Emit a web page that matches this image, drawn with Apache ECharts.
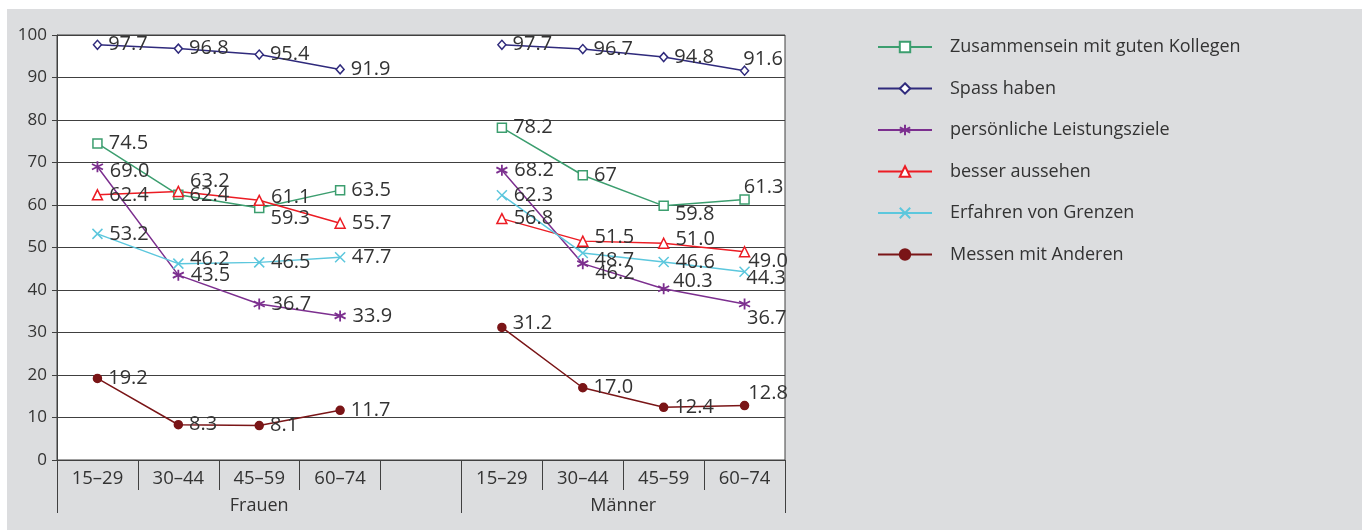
<!DOCTYPE html>
<html>
<head>
<meta charset="utf-8">
<script src="https://cdn.jsdelivr.net/npm/echarts@6/dist/echarts.min.js"></script>
<style>
  html, body { margin: 0; padding: 0; background: #ffffff; }
  #bg { position: absolute; left: 7px; top: 9px; width: 1355px; height: 521px; background: #dcdddf; }
  #chart { position: absolute; left: 0; top: 0; width: 1362px; height: 530px; }
</style>
</head>
<body>
<div id="bg"></div>
<div id="chart"></div>
<script>
// ---- data ----
const ageGroups = ['15–29', '30–44', '45–59', '60–74'];
const sexGroups = ['Frauen', 'Männer'];
const seriesNames = ['Zusammensein mit guten Kollegen', 'Spass haben', 'persönliche Leistungsziele', 'besser aussehen', 'Erfahren von Grenzen', 'Messen mit Anderen'];
const yTicks = [0, 10, 20, 30, 40, 50, 60, 70, 80, 90, 100];

const frauenZusammensein = ['74.5', '62.4', '59.3', '63.5'];
const maennerZusammensein = ['78.2', '67', '59.8', '61.3'];
const frauenSpass = ['97.7', '96.8', '95.4', '91.9'];
const maennerSpass = ['97.7', '96.7', '94.8', '91.6'];
const frauenLeistung = ['69.0', '43.5', '36.7', '33.9'];
const maennerLeistung = ['68.2', '46.2', '40.3', '36.7'];
const frauenAussehen = ['62.4', '63.2', '61.1', '55.7'];
const maennerAussehen = ['56.8', '51.5', '51.0', '49.0'];
const frauenGrenzen = ['53.2', '46.2', '46.5', '47.7'];
const maennerGrenzen = ['62.3', '48.7', '46.6', '44.3'];
const frauenMessen = ['19.2', '8.3', '8.1', '11.7'];
const maennerMessen = ['31.2', '17.0', '12.4', '12.8'];

// ---- styling (label nudges, per series: Frauen 4 + Männer 4) ----
const labelNudge = [
  [[0,0],[0,0],[0,10],[0,0],   [0,0],[0,0],[0,8],[-12,-12]],
  [[0,0],[0,0],[0,0],[0,0],    [0,0],[0,0],[0,0],[-12,-11]],
  [[0,5],[0,0],[0,0],[0,0],    [0,0],[0,10],[-3,-7],[-10,14]],
  [[0,0],[0,-10],[0,-3],[0,0], [0,0],[0,-4],[0,-4],[-8,10]],
  [[0,0],[0,-4],[0,0],[0,0],   [0,0],[0,7],[0,0],[-10,7]],
  [[0,0],[0,0],[0,0],[0,0],    [0,-4],[0,0],[0,0],[-7,-12]]
];
const colors = ['#3c9e6f', '#2f2a7c', '#7c2f8f', '#ec1c24', '#5cc7dd', '#7a1517'];
const symbols = ['rect', 'diamond', 'path://M5,0L5,10M0.7,2.5L9.3,7.5M0.7,7.5L9.3,2.5', 'triangle', 'path://M0,0L10,10M10,0L0,10', 'circle'];
const symbolSizes = [9, [8, 9], 11, 10, 10, 8];
const symbolStroke = [1.5, 1.5, 1.8, 1.5, 1.5, 1.5];
const hollow = [true, true, false, true, false, false];

const seriesPairs = [
  [frauenZusammensein, maennerZusammensein],
  [frauenSpass, maennerSpass],
  [frauenLeistung, maennerLeistung],
  [frauenAussehen, maennerAussehen],
  [frauenGrenzen, maennerGrenzen],
  [frauenMessen, maennerMessen]
];

const categories = [...ageGroups, '', ...ageGroups];
const FONT = '"Open Sans", "Noto Sans", sans-serif';
const TXT = '#333333';
const LINE = '#404040';

function buildData(pair, si) {
  const raw = [...pair[0], null, ...pair[1]];
  let k = 0;
  return raw.map(function (s) {
    if (s === null) return null;
    const n = labelNudge[si][k++];
    return { value: Number(s), txt: s, label: { offset: n } };
  });
}

const series = seriesNames.map(function (name, i) {
  return {
    name: name,
    type: 'line',
    data: buildData(seriesPairs[i], i),
    symbol: symbols[i],
    symbolSize: symbolSizes[i],
    connectNulls: false,
    lineStyle: { color: colors[i], width: 1.5 },
    itemStyle: {
      color: hollow[i] ? '#ffffff' : colors[i],
      borderColor: colors[i],
      borderWidth: symbolStroke[i]
    },
    label: {
      show: true,
      position: 'right',
      distance: 6,
      color: TXT,
      fontSize: 20,
      fontFamily: FONT,
      formatter: function (p) { return p.data.txt; }
    },
    emphasis: { disabled: true },
    animation: false
  };
});

const chart = echarts.init(document.getElementById('chart'), null, { renderer: 'canvas' });
chart.setOption({
  backgroundColor: 'transparent',
  animation: false,
  textStyle: { fontFamily: FONT },
  grid: {
    left: 57, right: 577, top: 35, bottom: 70,
    show: true, backgroundColor: '#ffffff', borderColor: LINE, borderWidth: 1
  },
  legend: {
    orient: 'vertical',
    left: 877, top: 38,
    itemWidth: 54, itemHeight: 13, itemGap: 23.5,
    padding: 0,
    textStyle: { fontSize: 18, color: TXT, fontFamily: FONT, padding: [0, 0, 0, 13] },
    data: seriesNames
  },
  xAxis: [
    {
      type: 'category',
      data: categories,
      boundaryGap: true,
      position: 'bottom',
      axisLine: { show: true, lineStyle: { color: LINE, width: 1 } },
      axisTick: { show: true, interval: 0, length: 30, lineStyle: { color: LINE, width: 1 } },
      axisLabel: { interval: 0, margin: 9, fontSize: 18.5, color: TXT, fontFamily: FONT },
      splitLine: { show: false }
    },
    {
      type: 'value',
      min: 0, max: categories.length,
      position: 'bottom',
      axisLine: { show: false },
      axisTick: { show: true, customValues: [0, ageGroups.length + 1, categories.length], length: 53, lineStyle: { color: LINE, width: 1 } },
      axisLabel: {
        customValues: [(ageGroups.length + 1) / 2, ageGroups.length + 1 + ageGroups.length / 2],
        margin: 37, fontSize: 18, color: TXT, fontFamily: FONT,
        formatter: function (v) { return v < ageGroups.length + 1 ? sexGroups[0] : sexGroups[1]; }
      },
      splitLine: { show: false }
    }
  ],
  yAxis: {
    type: 'value',
    min: yTicks[0], max: yTicks[yTicks.length - 1], interval: 10,
    axisLine: { show: true, lineStyle: { color: LINE, width: 1 } },
    axisTick: { show: true, length: 5, lineStyle: { color: LINE } },
    axisLabel: { margin: 10, fontSize: 17, color: TXT, fontFamily: FONT },
    splitLine: { show: true, lineStyle: { color: LINE, width: 1 } }
  },
  series: series
});
</script>
</body>
</html>
